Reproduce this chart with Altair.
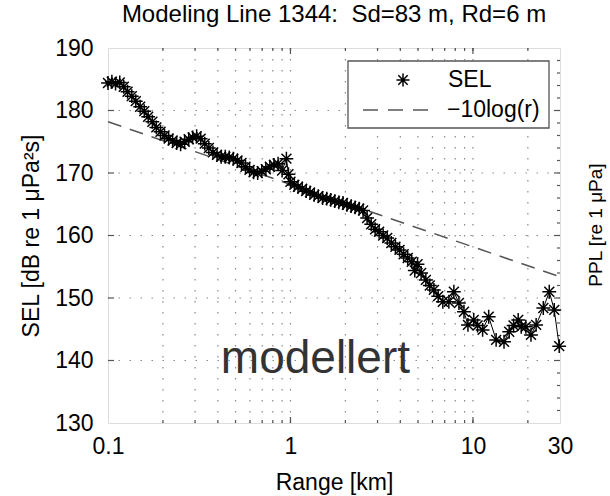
import altair as alt
import pandas as pd

# ---------------- data ----------------
range_km = [0.100, 0.105, 0.110, 0.116, 0.122, 0.128, 0.135, 0.142, 0.150, 0.158,
            0.166, 0.175, 0.184, 0.194, 0.204, 0.215, 0.226, 0.238, 0.250, 0.263,
            0.277, 0.291, 0.306, 0.322, 0.339, 0.357, 0.376, 0.396, 0.417, 0.439,
            0.462, 0.486, 0.512, 0.539, 0.567, 0.597, 0.628, 0.661, 0.696, 0.733,
            0.771, 0.812, 0.855, 0.900, 0.950, 0.975, 1.00, 1.05, 1.10, 1.16,
            1.22, 1.28, 1.35, 1.42, 1.50, 1.58, 1.66, 1.75, 1.84, 1.94,
            2.04, 2.15, 2.26, 2.38, 2.50, 2.63, 2.77, 2.91, 3.06, 3.22,
            3.39, 3.57, 3.76, 3.96, 4.17, 4.39, 4.62, 4.80, 4.97, 5.20,
            5.52, 5.80, 6.11, 6.45, 6.84, 7.38, 7.86, 8.38, 8.93, 9.39,
            10.1, 10.6, 11.3, 12.2, 13.4, 14.8, 15.8, 16.7, 17.7, 18.4,
            19.5, 20.8, 22.2, 24.3, 26.2, 27.9, 29.7]
sel_db = [184.4, 184.6, 184.3, 184.5, 183.8, 183.0, 182.3, 181.5, 180.6, 179.9,
          179.0, 178.2, 177.3, 176.6, 176.0, 175.5, 175.2, 174.8, 174.6, 175.0,
          175.4, 175.7, 175.9, 175.5, 174.7, 174.0, 173.3, 172.9, 172.6, 172.6,
          172.5, 172.3, 172.0, 171.6, 171.0, 170.5, 170.1, 170.0, 170.3, 170.6,
          171.0, 171.3, 171.5, 170.4, 172.3, 169.8, 168.6, 168.1, 167.8, 167.5,
          167.1, 166.9, 166.5, 166.3, 166.0, 165.9, 165.7, 165.5, 165.3, 165.2,
          164.9, 164.7, 164.5, 164.3, 164.0, 162.8, 161.8, 161.0, 160.6, 160.0,
          159.6, 158.8, 158.2, 157.7, 157.0, 156.4, 155.8, 154.4, 155.4, 154.0,
          152.9, 152.0, 151.3, 150.3, 149.4, 149.4, 151.0, 149.2, 147.8, 145.7,
          146.5, 145.6, 144.9, 147.0, 143.3, 143.0, 144.6, 145.6, 146.5, 145.4,
          145.4, 144.1, 145.7, 148.4, 151.0, 148.1, 142.3]

ref_range = [0.1, 30]
ref_db = [178.2, 153.4]

x_labels = [0.1, 1, 10, 30]
y_labels = [130, 140, 150, 160, 170, 180, 190]
x_grid = [0.2, 0.3, 0.4, 0.5, 0.6, 0.7, 0.8, 0.9, 1, 2, 3, 4, 5, 6, 7, 8, 9, 10, 20]
x_major = [1, 10]
y_grid = [140, 150, 160, 170, 180]
y_minor = [132, 134, 136, 138, 142, 144, 146, 148, 152, 154, 156, 158,
           162, 164, 166, 168, 172, 174, 176, 178, 182, 184, 186, 188]

title_text = "Modeling Line 1344:\u00a0 Sd=83 m, Rd=6 m"
x_title = "Range [km]"
y_title = "SEL [dB re 1 μPa²s]"
y2_title = "PPL [re 1 μPa]"
annot = "modellert"
annot_r = [1.37]
annot_db = [138.0]
legend_labels = ["SEL", "\u221210log(r)"]

# ---------------- style ----------------
W, H = 452, 375
FONT = "Liberation Sans"
FS = 23
STAR = "M-1,0L1,0M0,-1L0,1M-0.72,-0.72L0.72,0.72M-0.72,0.72L0.72,-0.72"
GRID_C = "#8a8a8a"
FRAME_C = "#555555"

xs = alt.Scale(type="log", domain=[0.1, 30], nice=False)
ys = alt.Scale(domain=[130, 190], nice=False, zero=False)

XA = alt.Axis(values=x_labels, format="~g", title=x_title, grid=False, ticks=False,
              domain=False, labelFontSize=FS, labelFont=FONT, labelColor="black",
              labelPadding=12, titleFontSize=FS, titleFont=FONT, titleFontWeight="normal",
              titleColor="black", titlePadding=13, labelFlush=False, labelOverlap=False)
YA = alt.Axis(values=y_labels, title=y_title, grid=False, ticks=False, domain=False,
              labelFontSize=FS, labelFont=FONT, labelColor="black", labelPadding=15,
              titleFontSize=FS, titleFont=FONT, titleFontWeight="normal", titleColor="black",
              titlePadding=11, labelFlush=False, labelOverlap=False)


def xe():
    return alt.X("r:Q", scale=xs, axis=XA)


def ye():
    return alt.Y("sel:Q", scale=ys, axis=YA)


sel_df = pd.DataFrame({"r": range_km, "sel": sel_db})
ref_df = pd.DataFrame({"r": ref_range, "sel": ref_db})
xg_df = pd.DataFrame({"r": x_grid})
xm_df = pd.DataFrame({"r": x_major})
yg_df = pd.DataFrame({"sel": y_grid})
ym_df = pd.DataFrame({"sel": y_minor})
one = pd.DataFrame({"k": [0]})

xgrid = alt.Chart(xg_df).mark_rule(color=GRID_C, strokeWidth=1.2, strokeDash=[1.5, 9.5]).encode(x=xe())
ygrid = alt.Chart(yg_df).mark_rule(color=GRID_C, strokeWidth=1.2, strokeDash=[1.5, 9.5]).encode(y=ye())

# inside tick marks
tick_kw = dict(color=FRAME_C, strokeWidth=1.2)
xt_minor_b = alt.Chart(xg_df).mark_rule(**tick_kw).encode(x=xe(), y=alt.value(H), y2=alt.value(H - 3))
xt_minor_t = alt.Chart(xg_df).mark_rule(**tick_kw).encode(x=xe(), y=alt.value(0), y2=alt.value(3))
xt_major_b = alt.Chart(xm_df).mark_rule(**tick_kw).encode(x=xe(), y=alt.value(H), y2=alt.value(H - 6))
xt_major_t = alt.Chart(xm_df).mark_rule(**tick_kw).encode(x=xe(), y=alt.value(0), y2=alt.value(6))
yt_l = alt.Chart(yg_df).mark_rule(**tick_kw).encode(y=ye(), x=alt.value(0), x2=alt.value(6))
yt_r = alt.Chart(yg_df).mark_rule(**tick_kw).encode(y=ye(), x=alt.value(W), x2=alt.value(W - 6))
yt_r_minor = alt.Chart(ym_df).mark_rule(**tick_kw).encode(y=ye(), x=alt.value(W), x2=alt.value(W - 3))

ref_line = alt.Chart(ref_df).mark_line(color="#555555", strokeWidth=1.5, strokeDash=[14, 9]).encode(
    x=xe(), y=ye())

sel_line = alt.Chart(sel_df).mark_line(color="black", strokeWidth=1).encode(x=xe(), y=ye())
sel_pts = alt.Chart(sel_df).mark_point(
    shape=STAR, filled=False, size=190, stroke="black", strokeWidth=1.5, opacity=1).encode(
    x=xe(), y=ye())

annot_df = pd.DataFrame({"r": annot_r, "sel": annot_db, "t": [annot]})
annot_txt = alt.Chart(annot_df).mark_text(
    font=FONT, fontSize=46, color="#333333", align="center", baseline="alphabetic").encode(
    x=xe(), y=ye(), text="t:N")

# legend (drawn by hand inside the plot)
leg_box = alt.Chart(one).mark_rect(fill="white", stroke=FRAME_C, strokeWidth=1.3).encode(
    x=alt.value(240), x2=alt.value(441), y=alt.value(13), y2=alt.value(80))
leg_star = alt.Chart(one).mark_point(
    shape=STAR, filled=False, size=170, stroke="black", strokeWidth=1.5, opacity=1).encode(
    x=alt.value(295), y=alt.value(32))
leg_dash = alt.Chart(one).mark_rule(color="#555555", strokeWidth=1.5, strokeDash=[15, 10]).encode(
    x=alt.value(255), x2=alt.value(329), y=alt.value(62))
leg_t1 = alt.Chart(one).mark_text(font=FONT, fontSize=FS, align="left", baseline="middle",
                                  color="black", text=legend_labels[0]).encode(
    x=alt.value(340), y=alt.value(32))
leg_t2 = alt.Chart(one).mark_text(font=FONT, fontSize=FS, align="left", baseline="middle",
                                  color="black", text=legend_labels[1]).encode(
    x=alt.value(339), y=alt.value(62))

# right-hand axis title
y2_txt = alt.Chart(one).mark_text(font=FONT, fontSize=19, angle=270, align="center",
                                  baseline="middle", color="black", text=y2_title).encode(
    x=alt.value(W + 36), y=alt.value(177))

chart = alt.layer(
    xgrid, ygrid, xt_minor_b, xt_minor_t, xt_major_b, xt_major_t, yt_l, yt_r, yt_r_minor,
    ref_line, sel_line, sel_pts, annot_txt, leg_box, leg_star, leg_dash, leg_t1, leg_t2, y2_txt
).properties(
    width=W, height=H,
    title=alt.TitleParams(text=title_text, font=FONT, fontSize=24, fontWeight="normal",
                          color="black", anchor="middle", offset=10),
    padding={"left": 108, "top": 48, "right": 50, "bottom": 73},
    autosize=alt.AutoSizeParams(type="none"),
).configure_view(stroke=FRAME_C, strokeWidth=1.5).configure(background="white")

chart.save("out.html", embed_options={"renderer": "svg", "actions": False})
